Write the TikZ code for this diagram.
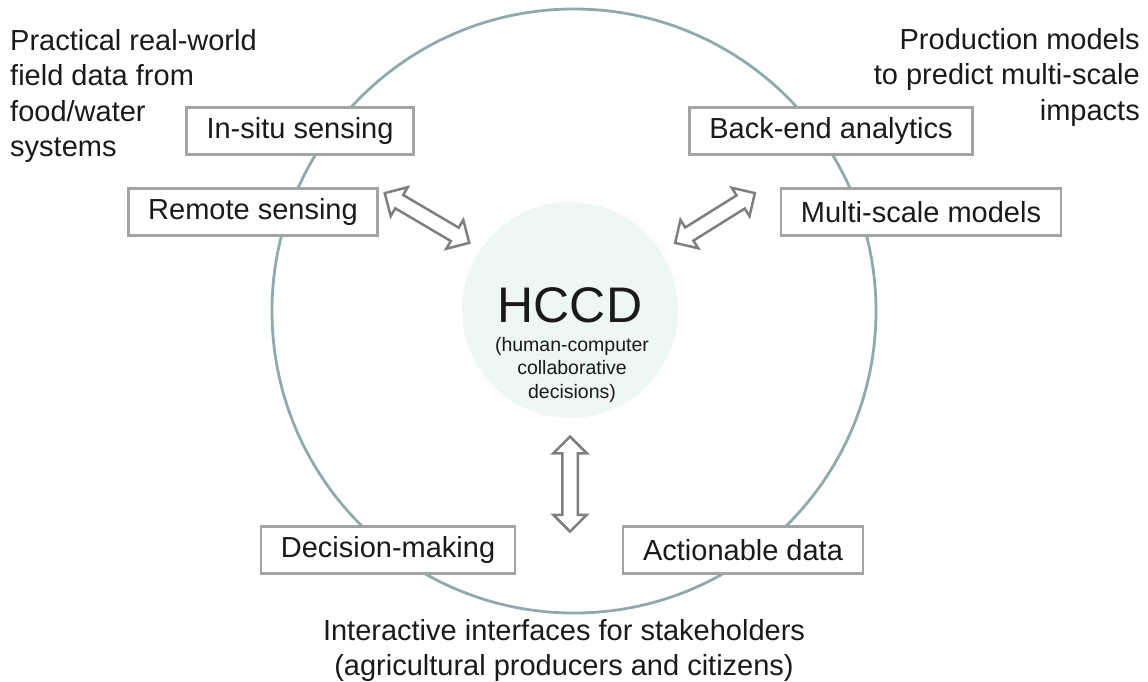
\documentclass[tikz,border=0pt]{standalone}
\usepackage{fontspec}
\setmainfont{Liberation Sans}
\usetikzlibrary{shapes.arrows}

\definecolor{ringcol}{HTML}{8FAAAB}
\definecolor{hubfill}{HTML}{EEF6F6}
\definecolor{boxline}{HTML}{A3A3A3}
\definecolor{arrline}{HTML}{7F7F7F}
\definecolor{inkcol}{HTML}{1A1A1A}

\tikzset{
  stagebox/.style={draw=boxline, line width=2.6pt, fill=white, text=inkcol,
    minimum height=47pt, inner xsep=20pt, font=\fontsize{29}{35}\selectfont},
  note/.style={text=inkcol, inner sep=0pt, font=\fontsize{29}{35.5}\selectfont},
  linkarrow/.style={draw=arrline, line width=2.5pt, fill=white, double arrow,
    inner xsep=0pt, inner ysep=6.5pt, minimum height=#1, minimum width=32pt,
    double arrow head extend=9pt},
}

\begin{document}
\begin{tikzpicture}[x=1pt, y=-1pt]
    \useasboundingbox (0,0) rectangle (1148,681);

    \draw[ringcol, line width=2.8pt] (574,311) circle (302pt);
    \fill[hubfill] (570,310) circle (108pt);

    \node[inkcol, inner sep=0pt, font=\fontsize{50}{50}\selectfont] (hccd) at (570,305) {HCCD};
    \node[inkcol, inner sep=0pt, align=center, anchor=north,
          font=\fontsize{19.5}{23.5}\selectfont] (hccdsub) at (572,337)
          {(human-computer\\collaborative\\decisions)};

    \node[stagebox] (insitu)  at (300,131) {In-situ sensing};
    \node[stagebox] (remote)  at (253,212) {Remote sensing};
    \node[stagebox] (backend) at (831,131) {Back-end analytics};
    \node[stagebox] (multis)  at (921,212) {Multi-scale models};
    \node[stagebox] (decide)  at (388,550) {Decision-making};
    \node[stagebox] (action)  at (743,550) {Actionable data};

    \node[note, anchor=north west, align=left] (fielddata) at (10,29)
        {Practical real-world\\field data from\\food/water\\systems};
    \node[note, anchor=north east, align=right] (prodmodels) at (1140,28)
        {Production models\\to predict multi-scale\\impacts};
    \node[note, anchor=north, align=center] (stakeholders) at (564,619)
        {Interactive interfaces for stakeholders\\(agricultural producers and citizens)};

    \node[linkarrow=98pt, rotate=-30.5] (leftlink)  at (427,218) {};
    \node[linkarrow=94pt, rotate=32]    (rightlink) at (715,218) {};
    \node[linkarrow=95pt, rotate=90]    (downlink)  at (570,484) {};
\end{tikzpicture}
\end{document}
